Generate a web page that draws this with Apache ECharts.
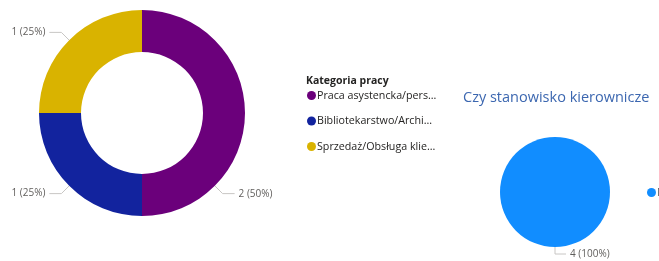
<!DOCTYPE html>
<html><head><meta charset="utf-8">
<script src="https://cdn.jsdelivr.net/npm/echarts@6/dist/echarts.min.js"></script>
<style>html,body{margin:0;padding:0;background:#fff}#c{width:659px;height:261px}</style>
</head><body><div id="c"></div>
<script>
const categories = ['Praca asystencka/pers...', 'Bibliotekarstwo/Archi...', 'Sprzedaż/Obsługa klie...'];
const categoryValues = [2, 1, 1];
const categoryColors = ['#6B007B', '#12239E', '#D9B300'];
const legendTitle = 'Kategoria pracy';
const managerCategories = ['Nie'];
const managerValues = [4];
const managerColors = ['#118DFF'];
const managerTitle = 'Czy stanowisko kierownicze';

const FONT = 'Open Sans';
const donutCenter = [142, 113];
const donutRadius = [61, 103];
const L1 = 11, L2 = 12;

const chart = echarts.init(document.getElementById('c'), null, {renderer: 'canvas'});
chart.setOption({
  animation: false,
  title: [
    {text: legendTitle, left: 301, top: 71, textStyle: {fontFamily: FONT, fontSize: 10.5, fontWeight: 'bold', color: '#252423'}},
    {text: managerTitle, left: 458, top: 85, textStyle: {fontFamily: FONT, fontSize: 14.5, fontWeight: 'normal', color: '#3C67B0'}}
  ],
  legend: [
    {
      seriesIndex: 0, data: categories, orient: 'vertical', left: 302, top: 85,
      icon: 'circle', itemWidth: 9, itemHeight: 9, itemGap: 14.5,
      textStyle: {fontFamily: FONT, fontSize: 10.7, color: '#252423', padding: [0, 0, 0, -4]},
      selectedMode: false
    },
    {
      data: managerCategories, orient: 'vertical', left: 642, top: 182,
      icon: 'circle', itemWidth: 9, itemHeight: 9,
      textStyle: {fontFamily: FONT, fontSize: 11, color: '#605E5C', padding: [0, 0, 0, -4]},
      selectedMode: false
    }
  ],
  series: [
    {
      type: 'pie', center: donutCenter, radius: donutRadius, startAngle: 90, clockwise: true,
      data: categories.map((n, i) => ({name: n, value: categoryValues[i], itemStyle: {color: categoryColors[i]}})),
      label: {formatter: '{c} ({d}%)', fontFamily: FONT, fontSize: 10, color: '#605E5C', distanceToLabelLine: 4},
      labelLine: {length: L1, length2: L2, lineStyle: {color: '#C8C6C4', width: 1}},
      labelLayout: function (p) {
        if (p.dataIndex !== 0) return {};
        const a = Math.PI / 4, R = donutRadius[1];
        const x0 = donutCenter[0] + R * Math.cos(a), y0 = donutCenter[1] + R * Math.sin(a);
        const x1 = x0 + L1 * Math.cos(a), y1 = y0 + L1 * Math.sin(a);
        const x2 = x1 + L2;
        return {x: x2 + 4, y: y1 + 1, align: 'left', verticalAlign: 'middle', labelLinePoints: [[x0, y0], [x1, y1], [x2, y1]]};
      },
      itemStyle: {borderWidth: 0}, emphasis: {disabled: true}
    },
    {
      type: 'pie', center: [555, 192], radius: [0, 55], startAngle: 90,
      data: managerCategories.map((n, i) => ({name: n, value: managerValues[i], itemStyle: {color: managerColors[i]}})),
      label: {formatter: '{c} ({d}%)', fontFamily: FONT, fontSize: 10, color: '#605E5C', distanceToLabelLine: 4},
      labelLine: {length: 7, length2: 11, lineStyle: {color: '#C8C6C4', width: 1}},
      labelLayout: function (p) {
        const x0 = 555, y0 = 192 + 55, y1 = y0 + 7, x2 = x0 + 11;
        return {x: x2 + 4, y: y1, align: 'left', verticalAlign: 'middle', labelLinePoints: [[x0, y0], [x0, y1], [x2, y1]]};
      },
      emphasis: {disabled: true}
    }
  ]
});
</script></body></html>
